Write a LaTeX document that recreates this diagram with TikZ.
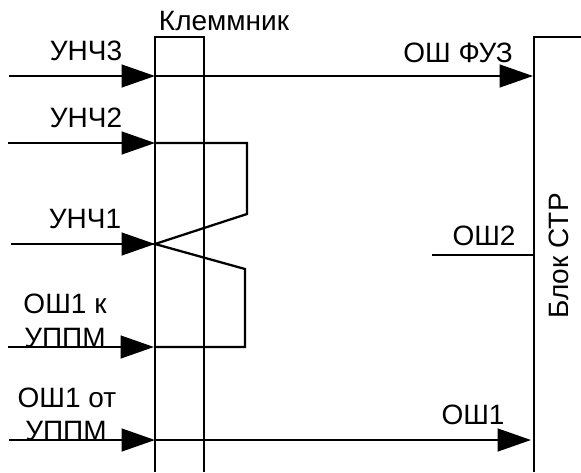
\documentclass[tikz,border=0pt]{standalone}
\usepackage{fontspec}
\setmainfont{Liberation Sans}
\usetikzlibrary{arrows.meta}
\tikzset{
  wire/.style={draw=black,line width=1.7pt,line join=miter},
  feed/.style={wire,-{Triangle[length=25pt,width=17pt]}},
  lab/.style={anchor=base,inner sep=0pt,outer sep=0pt,font=\fontsize{21pt}{23pt}\selectfont}
}
\begin{document}
\begin{tikzpicture}[x=0.75pt,y=-0.75pt]
\useasboundingbox (0,0) rectangle (581,472);
% terminal strip and block outlines
\coordinate (kbl) at (155,472);
\coordinate (ktl) at (155,37);
\coordinate (ktr) at (204,37);
\coordinate (kbr) at (204,472);
\coordinate (bbl) at (534,472);
\coordinate (btl) at (534,37);
\coordinate (btr) at (581,37);
\draw[wire] (kbl) -- (ktl) -- (ktr) -- (kbr);
\draw[wire] (bbl) -- (btl) -- (btr);
% free ends
\coordinate (i3) at (9,76);   \coordinate (t3) at (155,76);  \coordinate (o3) at (533,76);
\coordinate (i2) at (8,143);  \coordinate (t2) at (155,143);
\coordinate (i1) at (11,244); \coordinate (t1) at (155,244);
\coordinate (ik) at (8,347);  \coordinate (tk) at (154,347);
\coordinate (io) at (9,440);  \coordinate (to) at (155,440);  \coordinate (oo) at (531,440);
\coordinate (a1) at (247,143); \coordinate (a2) at (247,214);
\coordinate (b1) at (245,269); \coordinate (b2) at (245,347);
\coordinate (s2) at (432,255); \coordinate (e2) at (534,255);
% connectors
\draw[feed] (i3) -- (t3);
\draw[feed] (t3) -- (o3);
\draw[feed] (i2) -- (t2);
\draw[feed] (i1) -- (t1);
\draw[feed] (ik) -- (tk);
\draw[feed] (io) -- (to);
\draw[feed] (to) -- (oo);
\draw[wire] (t2) -- (a1) -- (a2) -- (t1) -- (b1) -- (b2) -- (tk);
\draw[wire] (s2) -- (e2);
% labels
\node[lab] (lk) at (224,30) {Клеммник};
\node[lab] (l3) at (86,60) {УНЧ3};
\node[lab] (l2) at (86,127) {УНЧ2};
\node[lab] (l1) at (85,228) {УНЧ1};
\node[lab] (lka) at (65,313) {ОШ1 к};
\node[lab] (lkb) at (65,347) {УППМ};
\node[lab] (loa) at (67,407) {ОШ1 от};
\node[lab] (lob) at (66,440) {УППМ};
\node[lab] (lf) at (458,62) {ОШ ФУЗ};
\node[lab] (ls2) at (484,245) {ОШ2};
\node[lab] (ls1) at (473,424) {ОШ1};
\node[lab,rotate=90] (lb) at (568,256) {Блок СТР};
\end{tikzpicture}
\end{document}
